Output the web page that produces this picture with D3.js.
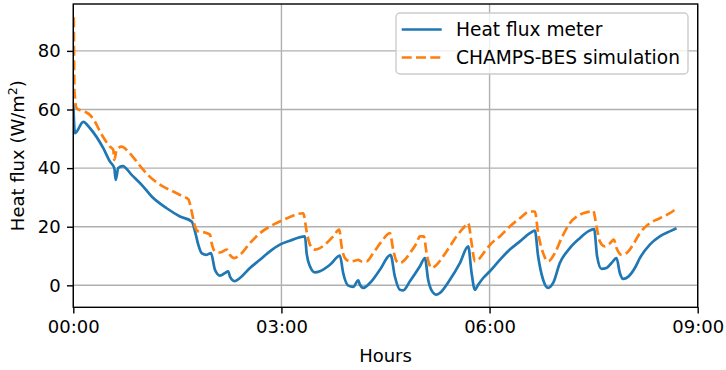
<!DOCTYPE html>
<html>
<head>
<meta charset="utf-8">
<script src="https://cdn.jsdelivr.net/npm/d3@7"></script>
<style>
  html, body { margin: 0; padding: 0; background: #fff; }
  svg text { font-family: "DejaVu Sans", sans-serif; fill: #000; }
</style>
</head>
<body>
<svg id="chart" width="726" height="370"></svg>
<script>
// Elapsed time in hours and measured heat flux (W/m²)
const meterHours = [0, 0.024, 0.144, 0.241, 0.432, 0.529, 0.591, 0.611, 0.648, 0.712, 0.841, 0.986, 1.130, 1.346, 1.538, 1.706, 1.754, 1.801, 1.850, 1.922, 1.984, 2.042, 2.114, 2.186, 2.233, 2.258, 2.330, 2.402, 2.546, 2.690, 2.834, 2.978, 3.122, 3.339, 3.363, 3.411, 3.483, 3.555, 3.699, 3.843, 3.890, 3.963, 4.035, 4.107, 4.131, 4.179, 4.275, 4.419, 4.573, 4.635, 4.707, 4.755, 4.852, 4.996, 5.068, 5.115, 5.164, 5.236, 5.284, 5.428, 5.572, 5.692, 5.741, 5.788, 5.836, 5.908, 6.004, 6.148, 6.292, 6.437, 6.581, 6.653, 6.700, 6.772, 6.844, 6.916, 7.013, 7.157, 7.301, 7.421, 7.507, 7.550, 7.614, 7.686, 7.758, 7.830, 7.878, 7.925, 7.997, 8.094, 8.166, 8.310, 8.454, 8.598, 8.695];
const meterFlux = [62, 51.9, 55.8, 53.6, 46.8, 42.2, 40, 36, 40, 40.7, 37.7, 34.3, 30.3, 26.3, 23.5, 21.8, 18.4, 13.9, 11, 10.4, 11, 5.3, 3.3, 4.2, 4.8, 3, 1.4, 2.5, 5.9, 8.7, 11.6, 13.9, 15.2, 16.7, 11, 6.5, 4.4, 4.8, 7, 10.1, 4.2, -0.1, -0.5, 1.7, 0.2, -0.9, 0.8, 5.3, 10.4, 3, -1.5, -1.7, 1.4, 6.5, 9.3, 1.9, -1.7, -3.2, -2.6, 1.9, 7.6, 13.3, 4.2, -1.5, 0.2, 2.5, 4.8, 8.7, 12.2, 15, 17.8, 18.7, 9.9, 1.9, -0.9, 0.8, 7.6, 12.7, 16.1, 18.4, 19.2, 9.9, 5.6, 5.9, 7.6, 9.3, 4.2, 2.2, 2.9, 5.9, 9.3, 13.9, 16.7, 18.4, 19.5];

// Elapsed time in hours and simulated heat flux (W/m²)
const simHours = [0.007, 0.017, 0.049, 0.097, 0.169, 0.241, 0.313, 0.386, 0.457, 0.529, 0.576, 0.591, 0.625, 0.697, 0.793, 0.914, 1.009, 1.153, 1.297, 1.441, 1.585, 1.657, 1.706, 1.754, 1.801, 1.898, 1.970, 1.994, 2.042, 2.114, 2.210, 2.258, 2.316, 2.402, 2.546, 2.690, 2.834, 2.978, 3.122, 3.242, 3.314, 3.363, 3.411, 3.483, 3.555, 3.651, 3.746, 3.833, 3.867, 3.915, 3.987, 4.059, 4.107, 4.156, 4.228, 4.323, 4.444, 4.563, 4.611, 4.660, 4.707, 4.779, 4.852, 4.948, 4.996, 5.053, 5.092, 5.164, 5.236, 5.331, 5.428, 5.524, 5.620, 5.692, 5.741, 5.788, 5.836, 5.932, 6.029, 6.148, 6.292, 6.437, 6.581, 6.653, 6.700, 6.772, 6.844, 6.941, 7.037, 7.157, 7.301, 7.445, 7.493, 7.542, 7.589, 7.661, 7.738, 7.790, 7.830, 7.902, 7.974, 8.069, 8.166, 8.310, 8.454, 8.598, 8.670];
const simFlux = [91.5, 66, 60.4, 59.8, 59.2, 58.1, 55.8, 52.4, 49.6, 47.3, 46.2, 42.8, 46.2, 47.3, 45.6, 42.2, 39.4, 36, 33.7, 32, 30.3, 29.4, 25.2, 20.1, 18.4, 18, 17.3, 14.4, 11.6, 11.2, 12.2, 10.4, 9.3, 10.4, 14.4, 17.8, 20.1, 21.8, 23.3, 24.4, 24.6, 18.4, 13.9, 12.2, 12.7, 14.4, 16.7, 19, 13.3, 9.3, 8.2, 8.4, 8.7, 8.2, 8.2, 11, 15, 17.8, 12.2, 8.2, 7.6, 8.7, 11, 14.4, 16.7, 16.7, 11, 5.9, 7, 9.9, 13.3, 16.7, 19.5, 21.2, 14.4, 8.2, 8.7, 11.6, 14.4, 16.7, 20.1, 22.9, 25.2, 25.2, 17.8, 11, 8.2, 11, 16.1, 21.2, 24.1, 25.2, 25.5, 20.1, 15, 13.3, 14.4, 15.6, 12.7, 10.4, 11, 13.9, 17.8, 21.2, 22.9, 24.6, 25.8];

const xTicks = [0, 3, 6, 9];
const yTicks = [0, 20, 40, 60, 80];
const seriesNames = ["Heat flux meter", "CHAMPS-BES simulation"];

const svg = d3.select("#chart");
const plot = { left: 73.3, right: 697.7, top: 4, bottom: 307.3 };
const fontSize = 18;
const legendFontSize = 18.6;
const tickLen = 6.3;

const x = d3.scaleLinear().domain([0, 9]).range([plot.left, plot.right]);
const y = d3.scaleLinear().domain([-7.5, 96]).range([plot.bottom, plot.top]);

const fmtHour = h => String(h).padStart(2, "0") + ":00";

// grid
const grid = svg.append("g").attr("stroke", "#b0b0b0").attr("stroke-width", 1.4);
grid.selectAll("line.gx").data(xTicks).join("line")
  .attr("x1", d => x(d)).attr("x2", d => x(d))
  .attr("y1", plot.top).attr("y2", plot.bottom);
grid.selectAll("line.gy").data(yTicks).join("line")
  .attr("x1", plot.left).attr("x2", plot.right)
  .attr("y1", d => y(d)).attr("y2", d => y(d));

// series
svg.append("clipPath").attr("id", "plotclip")
  .append("rect").attr("x", plot.left).attr("y", plot.top)
  .attr("width", plot.right - plot.left).attr("height", plot.bottom - plot.top);

const line = d3.line().x(d => x(d[0])).y(d => y(d[1])).curve(d3.curveMonotoneX);
const meter = meterHours.map((h, i) => [h, meterFlux[i]]);
const sim = simHours.map((h, i) => [h, simFlux[i]]);

const lines = svg.append("g").attr("clip-path", "url(#plotclip)");
lines.append("path").datum(meter).attr("d", line)
  .attr("fill", "none").attr("stroke", "#1f77b4").attr("stroke-width", 2.7)
  .attr("stroke-linejoin", "round").attr("stroke-linecap", "butt");
lines.append("path").datum(sim).attr("d", line)
  .attr("fill", "none").attr("stroke", "#ff7f0e").attr("stroke-width", 2.7)
  .attr("stroke-dasharray", "10,4.3")
  .attr("stroke-linejoin", "round").attr("stroke-linecap", "butt");

// axes
const xAxis = d3.axisBottom(x).tickValues(xTicks).tickFormat(fmtHour)
  .tickSize(tickLen).tickPadding(6.3);
const yAxis = d3.axisLeft(y).tickValues(yTicks)
  .tickSize(tickLen).tickPadding(6.3);

const gx = svg.append("g").attr("transform", `translate(0,${plot.bottom})`).call(xAxis);
const gy = svg.append("g").attr("transform", `translate(${plot.left},0)`).call(yAxis);
[gx, gy].forEach(g => {
  g.select(".domain").remove();
  g.selectAll(".tick line").attr("stroke", "#000").attr("stroke-width", 1.4);
  g.selectAll(".tick text").attr("font-size", fontSize)
    .attr("font-family", "DejaVu Sans").attr("fill", "#000");
});

// frame
svg.append("rect").attr("x", plot.left).attr("y", plot.top)
  .attr("width", plot.right - plot.left).attr("height", plot.bottom - plot.top)
  .attr("fill", "none").attr("stroke", "#000").attr("stroke-width", 1.4);

// axis labels
svg.append("text").attr("x", (plot.left + plot.right) / 2).attr("y", 362)
  .attr("text-anchor", "middle").attr("font-size", fontSize).text("Hours");

const yl = svg.append("text")
  .attr("transform", `translate(24,${(plot.top + plot.bottom) / 2}) rotate(-90)`)
  .attr("text-anchor", "middle").attr("font-size", fontSize);
yl.append("tspan").text("Heat flux (W/m");
yl.append("tspan").attr("font-size", fontSize * 0.7).attr("dy", -7).text("2");
yl.append("tspan").attr("dy", 7).text(")");

// legend
const lg = svg.append("g");
lg.append("rect").attr("x", 396).attr("y", 13).attr("width", 292).attr("height", 61)
  .attr("rx", 4).attr("fill", "#fff").attr("fill-opacity", 0.8)
  .attr("stroke", "#cccccc").attr("stroke-width", 1.4);
const legendItems = [
  { name: seriesNames[0], color: "#1f77b4", dash: null, cy: 29.5 },
  { name: seriesNames[1], color: "#ff7f0e", dash: "10,4.3", cy: 57.5 }
];
legendItems.forEach(it => {
  lg.append("line").attr("x1", 401.7).attr("x2", 441.7)
    .attr("y1", it.cy).attr("y2", it.cy)
    .attr("stroke", it.color).attr("stroke-width", 2.7)
    .attr("stroke-dasharray", it.dash);
  lg.append("text").attr("x", 456).attr("y", it.cy).attr("dy", "0.35em")
    .attr("font-size", legendFontSize).text(it.name);
});
</script>
</body>
</html>
